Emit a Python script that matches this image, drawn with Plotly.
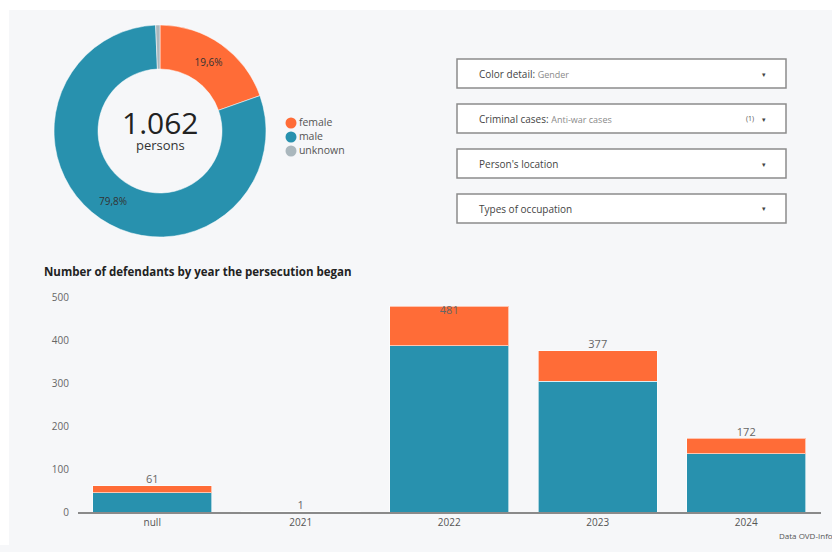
import plotly.graph_objects as go

# ---------------- data ----------------
gender_labels = ["female", "male", "unknown"]
gender_counts = [208, 847, 7]
gender_colors = ["#FF6C37", "#2891AE", "#AAB7BD"]
total_persons = "1.062"

years = ["null", "2021", "2022", "2023", "2024"]
male_by_year = [45, 1, 388, 305, 136]
female_by_year = [16, 0, 93, 72, 36]
total_by_year = [61, 1, 481, 377, 172]

y_ticks = [0, 100, 200, 300, 400, 500]

filters = [
    ("Color detail:", "Gender", ""),
    ("Criminal cases:", "Anti-war cases", "(1)"),
    ("Person's location", "", ""),
    ("Types of occupation", "", ""),
]

W, H = 832, 552
HE = 545  # effective rendered height observed
FONT = "Open Sans"
BG = "#F6F7F9"


def px(x):
    return x / W


def py(y):
    return 1 - y / HE


fig = go.Figure()

# donut
fig.add_trace(go.Pie(
    labels=gender_labels, values=gender_counts, hole=0.585, sort=False,
    direction="clockwise", rotation=0,
    marker=dict(colors=gender_colors, line=dict(color="white", width=0.5)),
    texttemplate=["%{percent:.1%}", "%{percent:.1%}", ""],
    textposition="inside", insidetextorientation="horizontal",
    textfont=dict(size=10, color="#333333", family=FONT),
    domain=dict(x=[px(54), px(266)], y=[py(237), py(25)]),
    showlegend=False, hoverinfo="label+value+percent",
))

# legend drawn as a small scatter on hidden axes
fig.add_trace(go.Scatter(
    x=[8] * len(gender_labels), y=list(range(len(gender_labels))),
    mode="markers+text", text=gender_labels, textposition="middle right",
    marker=dict(color=gender_colors, size=11),
    textfont=dict(size=10.5, color="#555555", family=FONT),
    xaxis="x3", yaxis="y3", showlegend=False, hoverinfo="skip", cliponaxis=False,
))

# stacked bars
fig.add_trace(go.Bar(
    x=years, y=male_by_year, name="male", marker=dict(color=gender_colors[1],
    line=dict(color="rgba(255,255,255,0.6)", width=1)), showlegend=False,
))
fig.add_trace(go.Bar(
    x=years, y=female_by_year, name="female", marker=dict(color=gender_colors[0],
    line=dict(color="rgba(255,255,255,0.6)", width=1)), showlegend=False,
))
fig.add_trace(go.Scatter(
    x=years, y=total_by_year, mode="text", text=[str(v) for v in total_by_year],
    textposition=["top center", "top center", "bottom center", "top center", "top center"],
    textfont=dict(size=11, color="#666666", family=FONT),
    showlegend=False, hoverinfo="skip", cliponaxis=False,
))

shapes = [
    dict(type="rect", xref="paper", yref="paper", x0=0, x1=px(9), y0=0, y1=1,
         fillcolor="white", line=dict(width=0), layer="below"),
    dict(type="rect", xref="paper", yref="paper", x0=0, x1=1, y0=py(10), y1=1,
         fillcolor="white", line=dict(width=0), layer="below"),
]


def ann(text, x, y, size, color, xanchor="center", **kw):
    return dict(text=text, x=px(x), y=py(y), xref="paper", yref="paper",
                xanchor=xanchor, yanchor="middle", showarrow=False,
                font=dict(size=size, color=color, family=FONT), **kw)


annotations = [
    ann(total_persons, 160, 122, 30, "#222222"),
    ann("persons", 160, 145, 13, "#333333"),
    ann("<b>Number of defendants by year the persecution began</b>", 42, 271, 11.5,
        "#222222", xanchor="left"),
    ann("Data OVD-Info", 777, 535, 8, "#555555", xanchor="left"),
]

box_tops = [59, 104, 149, 194]
for (label, value, count), top in zip(filters, box_tops):
    shapes.append(dict(type="rect", xref="paper", yref="paper",
                       x0=px(457), x1=px(786), y0=py(top + 29), y1=py(top),
                       fillcolor="white", line=dict(color="#8C8C8C", width=1.5)))
    txt = label
    if value:
        txt += " <span style='color:#8a8a8a;font-size:9px'>" + value + "</span>"
    annotations.append(ann(txt, 477, top + 15, 10, "#444444", xanchor="left"))
    annotations.append(ann("▾", 764, top + 15, 7, "#444444"))
    if count:
        annotations.append(ann(count, 750, top + 14, 7, "#555555"))

fig.update_layout(
    width=W, height=H, margin=dict(l=0, r=0, t=0, b=0),
    paper_bgcolor=BG, plot_bgcolor="rgba(0,0,0,0)",
    separators=",.", barmode="stack", bargap=0.2,
    font=dict(family=FONT, color="#555555"),
    shapes=shapes, annotations=annotations,
    xaxis=dict(domain=[px(78), px(820.5)], showline=True, linecolor="#8A8A8A", linewidth=1.5,
               showgrid=False, ticks="", tickfont=dict(size=10, color="#555555"), fixedrange=True),
    yaxis=dict(domain=[py(512), py(289.4)], range=[0, 520], tickvals=y_ticks, showgrid=False,
               zeroline=False, ticks="", ticklabelstandoff=8,
               tickfont=dict(size=10, color="#666666"), fixedrange=True),
    xaxis3=dict(domain=[px(283), px(380)], range=[0, 97], visible=False, anchor="y3"),
    yaxis3=dict(domain=[py(158), py(116)], range=[2.5, -0.5], visible=False, anchor="x3"),
)

fig.write_html("out.html", config={"displayModeBar": False},
               post_script="document.body.style.margin='0';document.body.style.overflow='hidden';"
                           "document.body.style.background='" + BG + "';")
